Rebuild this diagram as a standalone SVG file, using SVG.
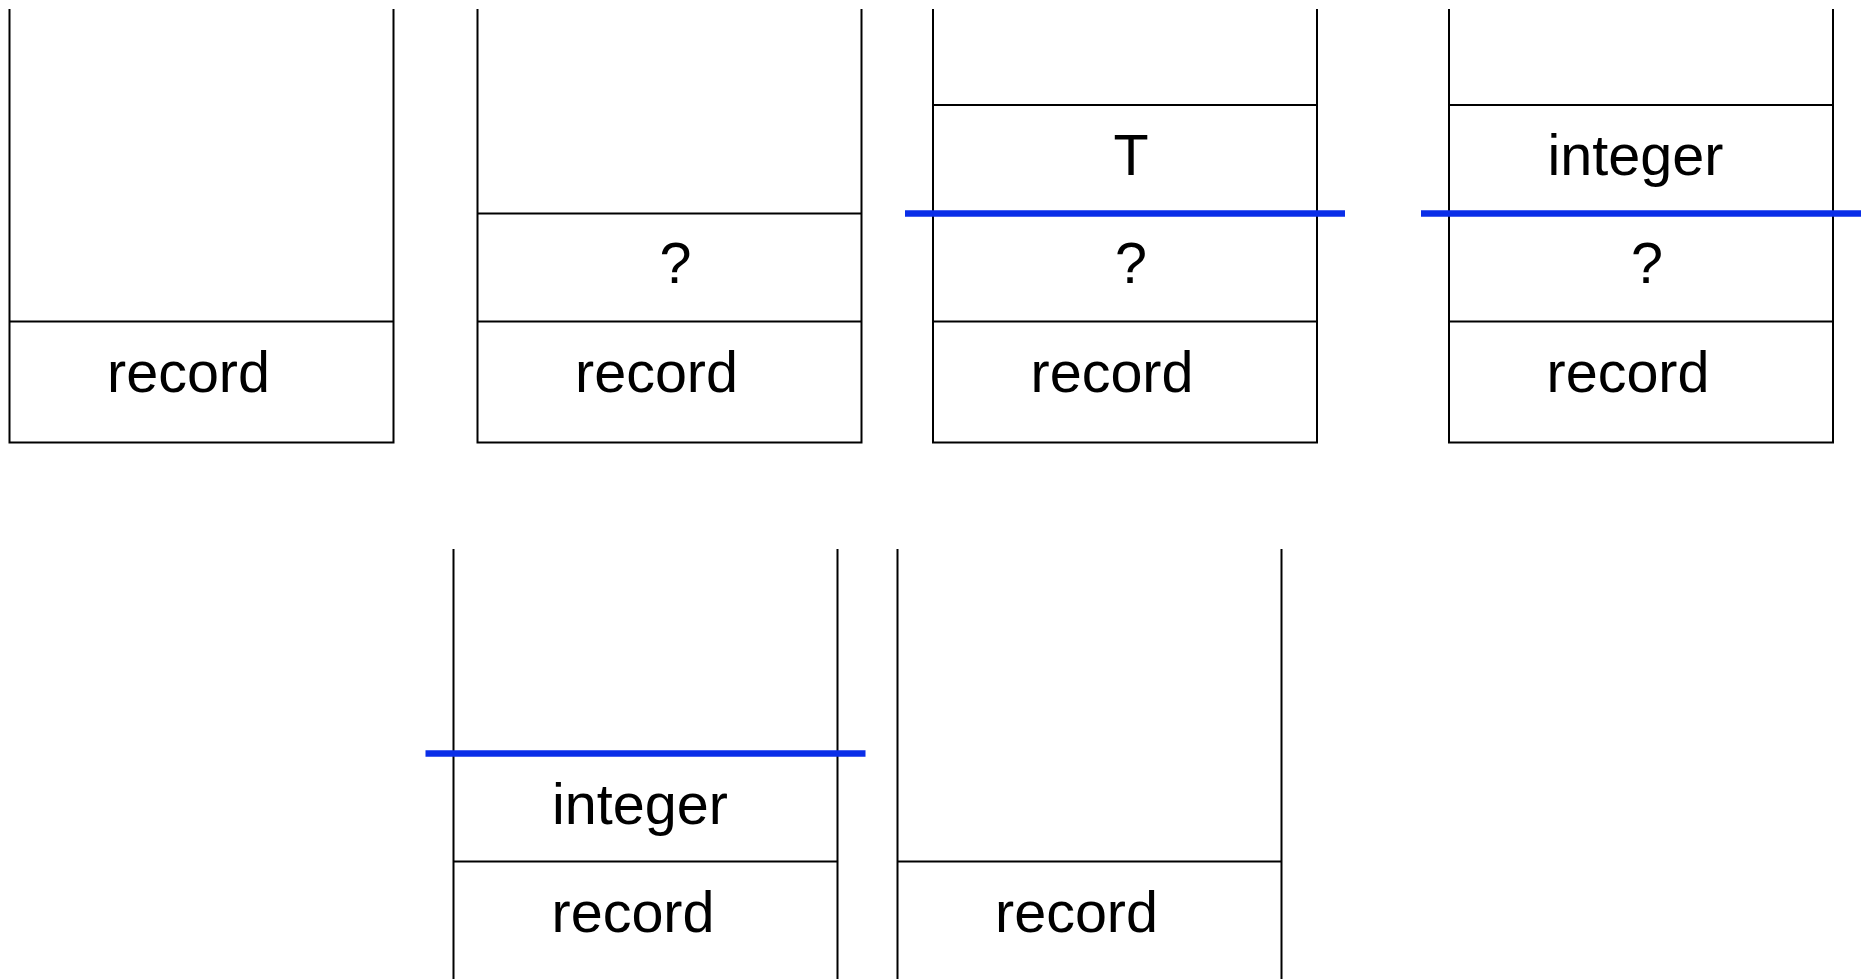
<svg xmlns="http://www.w3.org/2000/svg" width="1872" height="979" viewBox="0 0 1872 979">
<style>
.ln{stroke:#000;stroke-width:2;fill:none}
.bl{stroke:#0A2EE8;stroke-width:6.5;fill:none}
.t{font-family:"Liberation Sans",Arial,Helvetica,sans-serif;font-size:57.5px;fill:#000;text-anchor:middle}
</style>
<rect width="1872" height="979" fill="#fff"/>
<g id="stack1">
<path class="ln" d="M9.5,9 V442.5 H393.5 V9 M9.5,321.5 H393.5"/>
<text class="t" x="188.5" y="392">record</text>
</g>
<g id="stack2">
<path class="ln" d="M477.5,9 V442.5 H861.5 V9 M477.5,213.5 H861.5 M477.5,321.5 H861.5"/>
<text class="t" x="675.5" y="283">?</text>
<text class="t" x="656.5" y="392">record</text>
</g>
<g id="stack3">
<path class="ln" d="M933,9 V442.5 H1317 V9 M933,105 H1317 M933,321.5 H1317"/>
<text class="t" x="1131" y="175">T</text>
<text class="t" x="1131" y="283">?</text>
<text class="t" x="1112" y="392">record</text>
<path class="bl" d="M905,213.5 H1345"/>
</g>
<g id="stack4">
<path class="ln" d="M1449,9 V442.5 H1833 V9 M1449,105 H1833 M1449,321.5 H1833"/>
<text class="t" x="1635.5" y="175">integer</text>
<text class="t" x="1647" y="283">?</text>
<text class="t" x="1628" y="392">record</text>
<path class="bl" d="M1421,213.5 H1861"/>
</g>
<g id="stack5">
<path class="ln" d="M453.5,549 V979 M837.5,549 V979 M453.5,861.5 H837.5"/>
<text class="t" x="640" y="824">integer</text>
<text class="t" x="633" y="931.5">record</text>
<path class="bl" d="M425.5,753.5 H865.5"/>
</g>
<g id="stack6">
<path class="ln" d="M897.5,549 V979 M1281.5,549 V979 M897.5,861.5 H1281.5"/>
<text class="t" x="1076.5" y="931.5">record</text>
</g>
<g id="connectors"></g>
</svg>
